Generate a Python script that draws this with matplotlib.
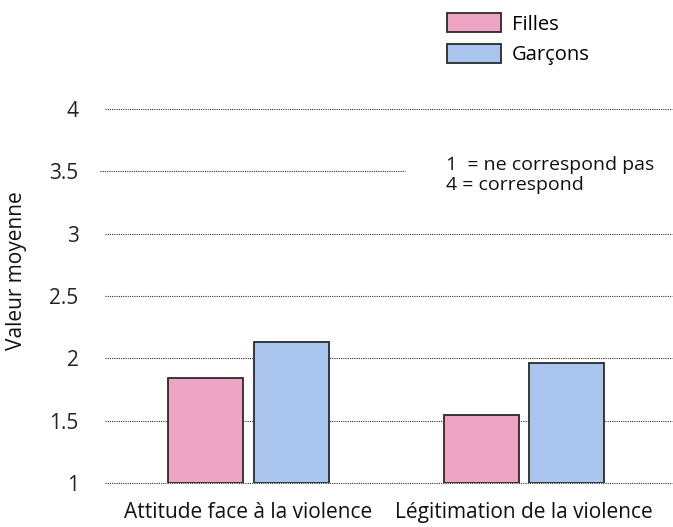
import matplotlib.pyplot as plt
import numpy as np

plt.rcParams["font.family"] = ["Open Sans", "DejaVu Sans"]
plt.rcParams["font.weight"] = "medium"

categories = ["Attitude face à la violence", "Légitimation de la violence"]
series_names = ["Filles", "Garçons"]
filles = [1.84, 1.545]
garcons = [2.13, 1.96]
yticks = [1, 1.5, 2, 2.5, 3, 3.5, 4]
ytick_labels = ["1", "1.5", "2", "2.5", "3", "3.5", "4"]

PINK = "#eea5c3"
BLUE = "#a9c5ee"
EDGE = "#2a2a2a"

W, H = 673, 527
fig = plt.figure(figsize=(W / 100, H / 100), dpi=100)
ax = fig.add_axes([105 / W, (H - 483) / H, 567 / W, (483 - 109) / H])

x = np.arange(len(categories))
bw = 0.272
off = 0.155

# dotted reference lines (the 3.5 line stops before the note)
for y in yticks:
    x1 = -0.538 if y == 3.5 else -0.52
    x2 = 0.57 if y == 3.5 else 1.537
    ax.hlines(y, x1, x2, colors="#333333", linestyles=(0, (1, 1)),
              linewidth=0.8, zorder=1, clip_on=False)

ax.bar(x - off, np.array(filles) - 1, bw, bottom=1, color=PINK,
       edgecolor=EDGE, linewidth=1.3, label=series_names[0], zorder=2)
ax.bar(x + off, np.array(garcons) - 1, bw, bottom=1, color=BLUE,
       edgecolor=EDGE, linewidth=1.3, label=series_names[1], zorder=2)

ax.set_xlim(-0.52, 1.537)
ax.set_ylim(1, 4)
ax.set_yticks(yticks)
ax.set_yticklabels(ytick_labels, fontsize=15, color="#222222")
ax.set_xticks(x)
ax.set_xticklabels(categories, fontsize=15, color="#111111")
ax.tick_params(axis="y", length=0, pad=19)
ax.tick_params(axis="x", length=0, pad=14)
for s in ax.spines.values():
    s.set_visible(False)

ax.set_ylabel("Valeur moyenne", fontsize=15, color="#111111")
ax.yaxis.set_label_coords(-0.137, 0.567)

ax.text(0.602, 0.875, "1  = ne correspond pas\n4 = correspond",
        transform=ax.transAxes, fontsize=14, va="top", ha="left",
        color="#111111", linespacing=1.15)

fig.legend(loc="upper left", bbox_to_anchor=(434 / W, 1 - 0 / H),
           frameon=False, fontsize=14.5, handlelength=2.7, handleheight=1.1,
           labelspacing=0.45, handletextpad=0.5, borderpad=0.15)

fig.savefig("out.png", dpi=100)
